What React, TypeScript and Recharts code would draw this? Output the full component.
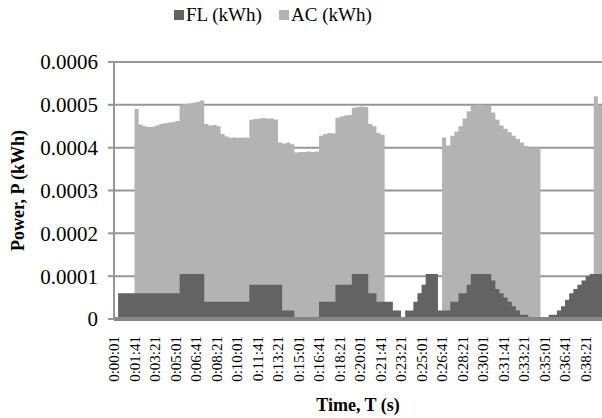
import React from 'react';
import { AreaChart, Area, XAxis, YAxis, CartesianGrid, Legend, Label } from 'recharts';

// time stamps, one every 20 s
const times = [
  '0:00:01', '0:00:21', '0:00:41', '0:01:01', '0:01:21', '0:01:41', '0:02:01', '0:02:21', '0:02:41', '0:03:01',
  '0:03:21', '0:03:41', '0:04:01', '0:04:21', '0:04:41', '0:05:01', '0:05:21', '0:05:41', '0:06:01', '0:06:21',
  '0:06:41', '0:07:01', '0:07:21', '0:07:41', '0:08:01', '0:08:21', '0:08:41', '0:09:01', '0:09:21', '0:09:41',
  '0:10:01', '0:10:21', '0:10:41', '0:11:01', '0:11:21', '0:11:41', '0:12:01', '0:12:21', '0:12:41', '0:13:01',
  '0:13:21', '0:13:41', '0:14:01', '0:14:21', '0:14:41', '0:15:01', '0:15:21', '0:15:41', '0:16:01', '0:16:21',
  '0:16:41', '0:17:01', '0:17:21', '0:17:41', '0:18:01', '0:18:21', '0:18:41', '0:19:01', '0:19:21', '0:19:41',
  '0:20:01', '0:20:21', '0:20:41', '0:21:01', '0:21:21', '0:21:41', '0:22:01', '0:22:21', '0:22:41', '0:23:01',
  '0:23:21', '0:23:41', '0:24:01', '0:24:21', '0:24:41', '0:25:01', '0:25:21', '0:25:41', '0:26:01', '0:26:21',
  '0:26:41', '0:27:01', '0:27:21', '0:27:41', '0:28:01', '0:28:21', '0:28:41', '0:29:01', '0:29:21', '0:29:41',
  '0:30:01', '0:30:21', '0:30:41', '0:31:01', '0:31:21', '0:31:41', '0:32:01', '0:32:21', '0:32:41', '0:33:01',
  '0:33:21', '0:33:41', '0:34:01', '0:34:21', '0:34:41', '0:35:01', '0:35:21', '0:35:41', '0:36:01', '0:36:21',
  '0:36:41', '0:37:01', '0:37:21', '0:37:41', '0:38:01', '0:38:21', '0:38:41', '0:39:01', '0:39:21', '0:39:41',
];

const fl = [
  0, 0.00006, 0.00006, 0.00006, 0.00006, 0.00006, 0.00006, 0.00006, 0.00006, 0.00006,
  0.00006, 0.00006, 0.00006, 0.00006, 0.00006, 0.00006, 0.000105, 0.000105, 0.000105, 0.000105,
  0.000105, 0.000105, 0.00004, 0.00004, 0.00004, 0.00004, 0.00004, 0.00004, 0.00004, 0.00004,
  0.00004, 0.00004, 0.00004, 0.00008, 0.00008, 0.00008, 0.00008, 0.00008, 0.00008, 0.00008,
  0.00008, 0.00002, 0.00002, 0.00002, 0, 0, 0, 0, 0, 0,
  0.00004, 0.00004, 0.00004, 0.00004, 0.00008, 0.00008, 0.00008, 0.00008, 0.000105, 0.000105,
  0.000105, 0.000105, 0.00006, 0.00006, 0.00004, 0.00004, 0.00004, 0.00004, 0.00002, 0.00002,
  0, 0.00002, 0.00002, 0.00004, 0.00006, 0.00008, 0.000105, 0.000105, 0.000105, 0.00002,
  0.00002, 0.00002, 0.00004, 0.00004, 0.00006, 0.00006, 0.00008, 0.000105, 0.000105, 0.000105,
  0.000105, 0.000105, 0.00009, 0.00007, 0.00006, 0.00005, 0.00004, 0.00003, 0.00002, 0.00001,
  0.00001, 0, 0, 0, 0, 0, 0.00001, 0.00001, 0.00002, 0.00003,
  0.000045, 0.00006, 0.00007, 0.00008, 0.00009, 0.0001, 0.000105, 0.000105, 0.000105, 0.000105,
];

const ac = [
  0, 0, 0, 0, 0, 0.00049, 0.000454, 0.00045, 0.000448, 0.000449,
  0.000452, 0.000455, 0.000457, 0.000459, 0.00046, 0.000462, 0.000501, 0.000502, 0.000503, 0.000505,
  0.000507, 0.00051, 0.000455, 0.000452, 0.000453, 0.00045, 0.000432, 0.000426, 0.000423, 0.000424,
  0.000423, 0.000424, 0.000423, 0.000465, 0.000467, 0.000468, 0.000469, 0.000468, 0.000468, 0.000466,
  0.000412, 0.00041, 0.000412, 0.000408, 0.000389, 0.00039, 0.00039, 0.000391, 0.00039, 0.000391,
  0.000428, 0.000432, 0.000434, 0.000433, 0.00047, 0.000473, 0.000475, 0.000476, 0.000493, 0.000495,
  0.000496, 0.000495, 0.000455, 0.00045, 0.000434, 0.00043, 0, 0, 0, 0,
  0, 0, 0, 0, 0, 0, 0, 0, 0, 0,
  0.000424, 0.000405, 0.000428, 0.000438, 0.00045, 0.000468, 0.000485, 0.000497, 0.0005, 0.0005,
  0.000499, 0.000498, 0.000482, 0.000465, 0.000452, 0.000444, 0.000436, 0.000428, 0.00042, 0.000412,
  0.000404, 0.0004, 0.0004, 0.0004, 0, 0, 0, 0, 0, 0,
  0, 0, 0, 0, 0, 0, 0, 0.00052, 0.000498, 0.000498,
];

const yTicks = [0, 0.0001, 0.0002, 0.0003, 0.0004, 0.0005, 0.0006];

const data = times.map((time, i) => ({ time, fl: fl[i], ac: ac[i] }));

const FONT = '"Liberation Serif", "Times New Roman", serif';
const FL_COLOR = '#636363';
const AC_COLOR = '#b3b3b3';
const GRID = '#969696';

const legendItems = [
  { name: 'FL (kWh)', color: FL_COLOR, left: 174 },
  { name: 'AC (kWh)', color: AC_COLOR, left: 279 },
];

function ChartLegend() {
  return (
    <div style={{ position: 'relative', height: 30, fontFamily: FONT, fontSize: 19, color: '#000' }}>
      {legendItems.map((it) => (
        <div key={it.name} style={{ position: 'absolute', left: it.left, top: 2, display: 'flex', alignItems: 'center', whiteSpace: 'nowrap' }}>
          <span style={{ width: 10, height: 10, background: it.color, marginRight: 2 }} />
          <span>{it.name}</span>
        </div>
      ))}
    </div>
  );
}

function TimeTick({ x, y, payload }: any) {
  return (
    <g transform={`translate(${x},${y})`}>
      <text transform="rotate(-90)" x={-9} dy="0.35em" textAnchor="end" fontSize={15} fill="#000" fontFamily={FONT}>
        {payload.value}
      </text>
    </g>
  );
}

function YTitle({ viewBox }: any) {
  const cx = viewBox.x + 18;
  const cy = viewBox.y + viewBox.height / 2;
  return (
    <text x={cx} y={cy} transform={`rotate(-90, ${cx}, ${cy})`} textAnchor="middle" dominantBaseline="central"
      fontFamily={FONT} fontWeight="bold" fontSize={18} fill="#000">
      Power, P (kWh)
    </text>
  );
}

function XTitle({ viewBox }: any) {
  const cx = viewBox.x + viewBox.width / 2;
  const cy = viewBox.y + viewBox.height - 13;
  return (
    <text x={cx} y={cy} textAnchor="middle" dominantBaseline="central"
      fontFamily={FONT} fontWeight="bold" fontSize={18} fill="#000">
      Time, T (s)
    </text>
  );
}

export default function App() {
  return (
    <div style={{ position: 'absolute', left: 0, top: 0, width: 602, height: 418, background: '#fff' }}>
      <AreaChart width={602} height={418} data={data} margin={{ top: 32, right: 0, bottom: 0, left: 0 }}
        style={{ fontFamily: FONT }}>
        <CartesianGrid vertical={false} stroke={GRID} strokeWidth={2} />
        <Legend verticalAlign="top" align="left" content={<ChartLegend />} wrapperStyle={{ top: 2, left: 0, width: 602 }} />
        <XAxis dataKey="time" interval={4} tickLine={false} axisLine={{ stroke: '#878787', strokeWidth: 4 }}
          height={99} tick={<TimeTick />}>
          <Label content={<XTitle />} />
        </XAxis>
        <YAxis domain={[0, 0.0006]} ticks={yTicks} width={114} tickSize={6} tickMargin={10}
          tickFormatter={(v: number) => (v === 0 ? '0' : v.toFixed(4))}
          tick={{ fontSize: 21, fill: '#000', fontFamily: FONT }}
          tickLine={{ stroke: GRID, strokeWidth: 2 }} axisLine={{ stroke: GRID, strokeWidth: 2 }}>
          <Label content={<YTitle />} />
        </YAxis>
        <Area type="stepAfter" dataKey="ac" name="AC (kWh)" stroke="none" fill={AC_COLOR} fillOpacity={1}
          isAnimationActive={false} dot={false} activeDot={false} />
        <Area type="stepAfter" dataKey="fl" name="FL (kWh)" stroke="none" fill={FL_COLOR} fillOpacity={1}
          isAnimationActive={false} dot={false} activeDot={false} />
      </AreaChart>
    </div>
  );
}
